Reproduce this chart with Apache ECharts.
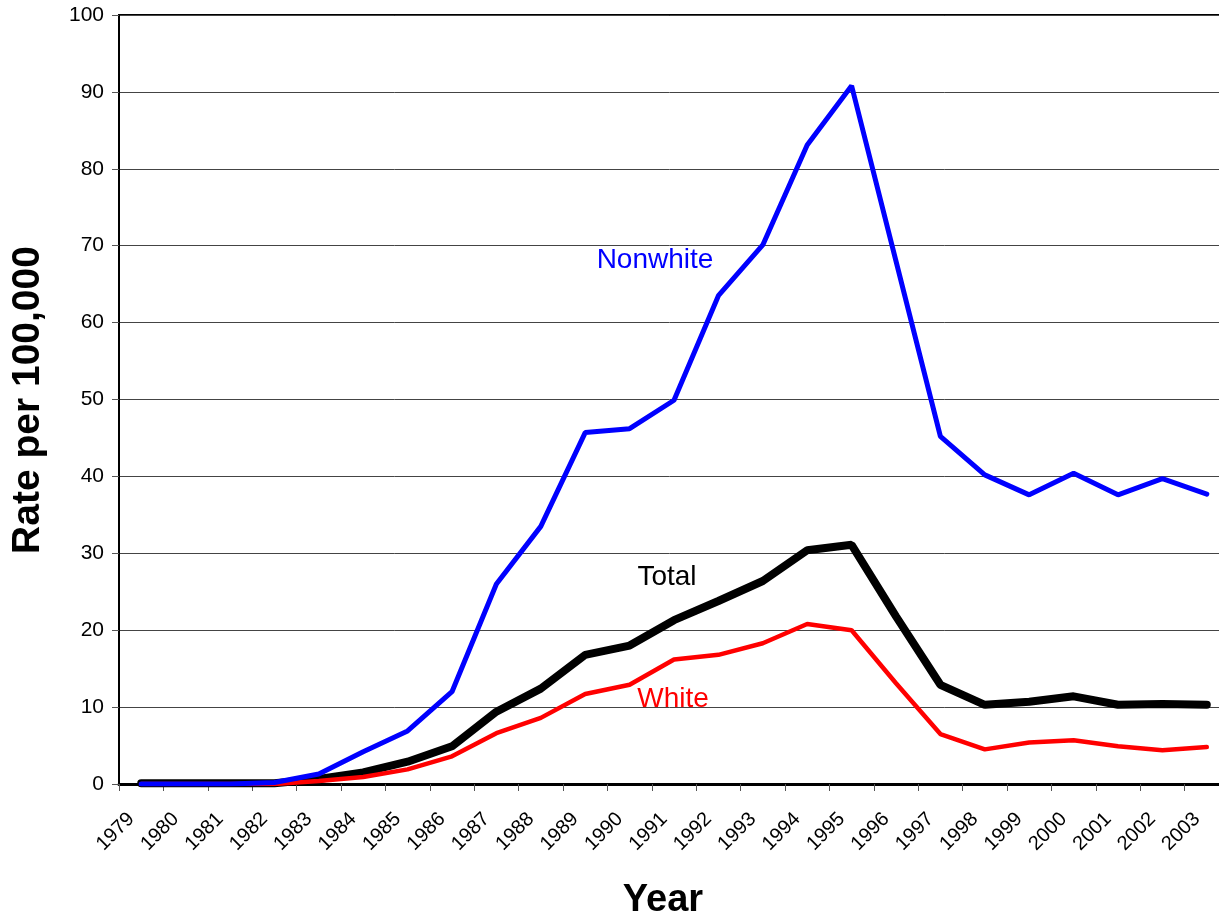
<!DOCTYPE html>
<html><head><meta charset="utf-8">
<script src="https://cdn.jsdelivr.net/npm/echarts@6/dist/echarts.min.js"></script>
<style>html,body{margin:0;padding:0;background:#fff}#c{width:1219px;height:921px}</style>
</head><body><div id="c"></div>
<script>
var years = ['1979','1980','1981','1982','1983','1984','1985','1986','1987','1988','1989','1990','1991','1992','1993','1994','1995','1996','1997','1998','1999','2000','2001','2002','2003'];
var nonwhite = [0,0,0,0.2,1.3,4.2,6.9,12.0,26.0,33.5,45.7,46.2,49.9,63.5,70.1,83.1,90.8,68.0,45.2,40.2,37.6,40.4,37.6,39.7,37.7];
var total = [0.1,0.1,0.1,0.1,0.65,1.5,2.9,4.9,9.4,12.4,16.8,18.0,21.3,23.8,26.4,30.4,31.1,21.8,12.9,10.3,10.7,11.4,10.3,10.4,10.3];
var white = [0,0,0,0,0.4,0.9,1.9,3.6,6.6,8.6,11.7,12.9,16.2,16.8,18.3,20.8,20.0,13.1,6.5,4.5,5.4,5.7,4.9,4.4,4.8];
var yTicks = [0,10,20,30,40,50,60,70,80,90,100];

var F = 'Liberation Sans, Arial, sans-serif';
var chart = echarts.init(document.getElementById('c'), null, {renderer:'canvas'});
chart.setOption({
  animation:false,
  backgroundColor:'#fff',
  grid:{left:119, top:15, width:1110, height:769, outerBoundsMode:'none', containLabel:false, show:true, borderColor:'#000', borderWidth:2, backgroundColor:'transparent'},
  xAxis:{
    type:'category', data:years, boundaryGap:true,
    axisLine:{lineStyle:{color:'#000', width:3}},
    axisTick:{show:true, length:7, lineStyle:{color:'#555', width:1}},
    axisLabel:{rotate:45, color:'#000', fontFamily:F, fontSize:20, margin:22, interval:0, padding:[0,14,0,0]},
    splitLine:{show:false}
  },
  yAxis:{
    type:'value', min:yTicks[0], max:yTicks[yTicks.length-1], interval:10,
    axisLine:{show:true, lineStyle:{color:'#000', width:2}},
    axisTick:{show:true, length:7, lineStyle:{color:'#555', width:1}},
    axisLabel:{color:'#000', fontFamily:F, fontSize:21, margin:15},
    splitLine:{show:true, lineStyle:{color:'#444', width:1}}
  },
  series:[
    {name:'Total', type:'line', data:total, symbol:'none', z:2,
     lineStyle:{color:'#000', width:8, cap:'round'}},
    {name:'White', type:'line', data:white, symbol:'none', z:3,
     lineStyle:{color:'#ff0000', width:4.5, cap:'round'}},
    {name:'Nonwhite', type:'line', data:nonwhite, symbol:'none', z:4,
     lineStyle:{color:'#0000ff', width:5, cap:'round'}}
  ],
  graphic:[
    {type:'text', x:655, y:260, style:{text:'Nonwhite', fill:'#0000ff', font:'28px '+F, textAlign:'center', textVerticalAlign:'middle'}},
    {type:'text', x:667, y:577, style:{text:'Total', fill:'#000', font:'28px '+F, textAlign:'center', textVerticalAlign:'middle'}},
    {type:'text', x:673, y:699, style:{text:'White', fill:'#ff0000', font:'28px '+F, textAlign:'center', textVerticalAlign:'middle'}},
    {type:'text', x:663, y:901, style:{text:'Year', fill:'#000', font:'bold 38px '+F, textAlign:'center', textVerticalAlign:'middle'}},
    {type:'text', x:28, y:400, rotation:Math.PI/2, originX:0, originY:0, style:{text:'Rate per 100,000', fill:'#000', font:'bold 39px '+F, textAlign:'center', textVerticalAlign:'middle'}}
  ]
});
</script></body></html>
